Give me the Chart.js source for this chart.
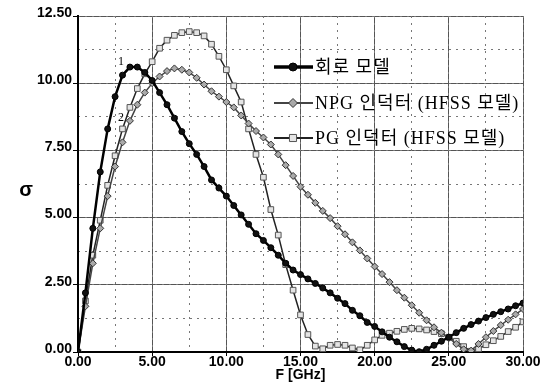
<!DOCTYPE html>
<html>
<head>
<meta charset="utf-8">
<script src="https://cdn.jsdelivr.net/npm/chart.js@4.4.1/dist/chart.umd.min.js"></script>
<style>
  html, body { margin: 0; padding: 0; background: #fff; }
  #wrap { width: 540px; height: 387px; }
</style>
</head>
<body>
<div id="wrap"><canvas id="c"></canvas></div>
<script>
// frequency points (GHz)
const freq = [0, 0.5, 1, 1.5, 2, 2.5, 3, 3.5, 4, 4.5, 5, 5.5, 6, 6.5, 7, 7.5, 8, 8.5, 9, 9.5,
  10, 10.5, 11, 11.5, 12, 12.5, 13, 13.5, 14, 14.5, 15, 15.5, 16, 16.5, 17, 17.5, 18, 18.5, 19, 19.5,
  20, 20.5, 21, 21.5, 22, 22.5, 23, 23.5, 24, 24.5, 25, 25.5, 26, 26.5, 27, 27.5, 28, 28.5, 29, 29.5, 30];

// 회로 모델
const circuitModel = [0, 2.2, 4.6, 6.7, 8.3, 9.5, 10.3, 10.6, 10.6, 10.4, 10.1, 9.65, 9.2, 8.7, 8.2, 7.75, 7.35, 6.9, 6.4, 6.1,
  5.8, 5.45, 5.1, 4.75, 4.4, 4.15, 3.88, 3.6, 3.3, 3.05, 2.88, 2.72, 2.55, 2.38, 2.2, 2.0, 1.8, 1.55, 1.35, 1.1,
  0.95, 0.75, 0.55, 0.38, 0.2, 0.07, 0.01, 0.1, 0.25, 0.4, 0.55, 0.72, 0.88, 1.02, 1.15, 1.28, 1.4, 1.5, 1.6, 1.72, 1.82];

// NPG 인덕터 (HFSS 모델)
const npgInductor = [0, 1.7, 3.3, 4.6, 5.8, 6.9, 7.8, 8.6, 9.2, 9.65, 10.0, 10.25, 10.45, 10.55, 10.5, 10.4, 10.2, 9.95, 9.7, 9.5,
  9.3, 9.1, 8.8, 8.5, 8.22, 7.98, 7.72, 7.35, 6.95, 6.55, 6.15, 5.85, 5.55, 5.25, 4.98, 4.68, 4.38, 4.08, 3.78, 3.48,
  3.18, 2.9, 2.6, 2.3, 2.02, 1.74, 1.46, 1.18, 0.92, 0.72, 0.52, 0.3, 0.1, 0.05, 0.3, 0.55, 0.78, 1.0, 1.2, 1.4, 1.6];

// PG 인덕터 (HFSS 모델)
const pgInductor = [0, 1.9, 3.6, 4.9, 6.2, 7.3, 8.3, 9.1, 9.8, 10.35, 10.8, 11.3, 11.6, 11.78, 11.88, 11.92, 11.88, 11.76, 11.45, 11.0,
  10.5, 9.9, 9.3, 8.3, 7.35, 6.5, 5.3, 4.35, 3.25, 2.3, 1.38, 0.65, 0.22, 0.12, 0.25, 0.28, 0.25, 0.15, 0.08, 0.25,
  0.45, 0.62, 0.7, 0.77, 0.84, 0.88, 0.86, 0.82, 0.76, 0.68, 0.55, 0.4, 0.2, 0.03, 0.12, 0.27, 0.42, 0.58, 0.76, 0.92, 1.12];

const seriesNames = ['회로 모델', 'NPG 인덕터 (HFSS 모델)', 'PG 인덕터 (HFSS 모델)'];
const curveTags = [{ text: '1', x: 2.9, y: 10.8 }, { text: '2', x: 2.9, y: 8.7 }];

const toPoints = vals => vals.map((v, i) => ({ x: freq[i], y: v }));

const styles = [
  { borderColor: '#000', borderWidth: 2.5, pointStyle: 'circle', pointRadius: 3, pointBackgroundColor: '#111', pointBorderColor: '#000', pointBorderWidth: 1 },
  { borderColor: '#444', borderWidth: 1.5, pointStyle: 'rectRot', pointRadius: 3.5, pointBackgroundColor: '#aaa', pointBorderColor: '#333', pointBorderWidth: 1 },
  { borderColor: '#222', borderWidth: 1.5, pointStyle: 'rect', pointRadius: 4, pointBackgroundColor: '#e4e4e4', pointBorderColor: '#555', pointBorderWidth: 1 }
];

const overlayPlugin = {
  id: 'overlay',
  afterDraw(chart) {
    const { ctx, scales } = chart;
    ctx.save();
    // legend inside plot
    const rowsY = [67, 103, 138];
    ctx.font = '18px "Liberation Serif", "Noto Sans CJK KR"';
    ctx.letterSpacing = '1px';
    ctx.textBaseline = 'middle';
    ctx.textAlign = 'left';
    seriesNames.forEach((name, i) => {
      const s = styles[i];
      const y = rowsY[i];
      ctx.strokeStyle = s.borderColor;
      ctx.lineWidth = i === 0 ? 3.5 : 2;
      ctx.beginPath();
      ctx.moveTo(274, y);
      ctx.lineTo(313, y);
      ctx.stroke();
      ctx.fillStyle = s.pointBackgroundColor;
      ctx.strokeStyle = s.pointBorderColor;
      ctx.lineWidth = 1;
      Chart.helpers.drawPoint(ctx, { pointStyle: s.pointStyle, radius: s.pointRadius + 1, rotation: 0, borderWidth: 1 }, 293, y);
      ctx.fillStyle = '#000';
      ctx.fillText(name, 315, y + 1);
    });
    // small curve tags
    ctx.letterSpacing = '0px';
    ctx.font = '12px "Liberation Serif"';
    ctx.textAlign = 'center';
    curveTags.forEach(t => {
      ctx.fillText(t.text, scales.x.getPixelForValue(t.x), scales.y.getPixelForValue(t.y));
    });
    // y-axis symbol
    ctx.font = 'bold 20px "Liberation Sans"';
    ctx.fillText('σ', 26, 190);
    ctx.restore();
  }
};

new Chart(document.getElementById('c'), {
  type: 'line',
  data: {
    datasets: seriesNames.map((name, i) => Object.assign({
      label: name,
      data: toPoints([circuitModel, npgInductor, pgInductor][i]),
      fill: false,
      tension: 0
    }, styles[i]))
  },
  options: {
    responsive: true,
    maintainAspectRatio: false,
    animation: false,
    layout: { padding: { left: 0, right: 17, top: 16, bottom: 0 } },
    scales: {
      x: {
        type: 'linear',
        min: 0, max: 30,
        afterFit: s => { s.height = 35; },
        ticks: {
          stepSize: 5,
          padding: -2,
          maxRotation: 0,
          color: '#000',
          font: { family: '"Liberation Sans"', weight: 'bold', size: 14 },
          callback: v => v.toFixed(2)
        },
        grid: { color: '#555', lineWidth: 1, tickLength: 4, tickColor: '#000' },
        border: { color: '#000', width: 2 },
        title: {
          display: true, text: 'F [GHz]', color: '#000',
          font: { family: '"Liberation Sans"', weight: 'bold', size: 14 },
          padding: { top: 0, bottom: 3 }
        }
      },
      y: {
        min: 0, max: 12.5,
        afterFit: s => { s.width = 78; },
        ticks: {
          stepSize: 2.5,
          padding: 1,
          labelOffset: -3,
          color: '#000',
          font: { family: '"Liberation Sans"', weight: 'bold', size: 14 },
          callback: v => v.toFixed(2)
        },
        grid: { color: '#555', lineWidth: 1, tickLength: 5, tickColor: '#000' },
        border: { color: '#000', width: 2 }
      },
      xm: {
        type: 'linear', position: 'top',
        min: 0, max: 30,
        afterFit: s => { s.height = 0; },
        ticks: { display: false, stepSize: 2.5 },
        grid: { color: '#777', lineWidth: 1, drawTicks: false },
        border: { display: false, dash: [2, 5] }
      },
      ym: {
        position: 'right',
        min: 0, max: 12.5,
        afterFit: s => { s.width = 0; },
        ticks: { display: false, stepSize: 1.25 },
        grid: { color: '#777', lineWidth: 1, drawTicks: false },
        border: { display: false, dash: [2, 5] }
      }
    },
    plugins: {
      legend: { display: false },
      tooltip: { enabled: false }
    }
  },
  plugins: [overlayPlugin]
});
</script>
</body>
</html>
